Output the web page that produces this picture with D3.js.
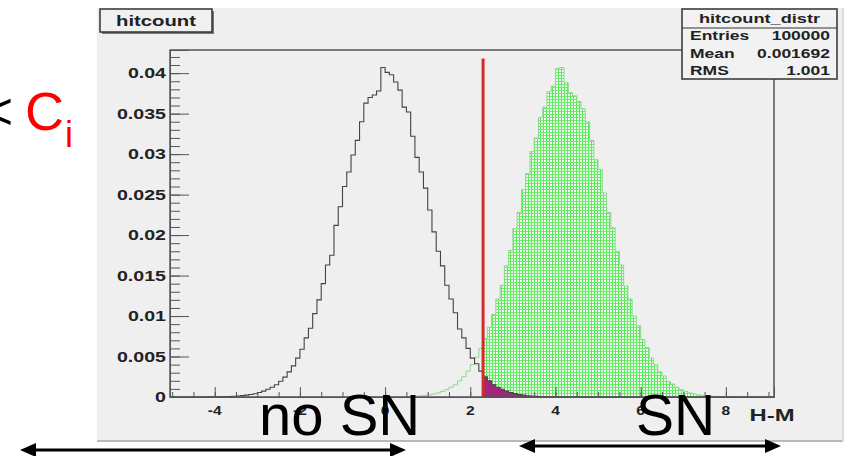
<!DOCTYPE html>
<meta charset="utf-8" />
<html>
<head>
<script src="https://d3js.org/d3.v7.min.js"></script>
<style>
  body { margin: 0; background: #fff; }
  svg { display: block; }
  .root-txt { font-family: "Liberation Sans", Arial, sans-serif; font-weight: bold; fill: #222; }
  .big-txt { font-family: "Liberation Sans", Arial, sans-serif; }
</style>
</head>
<body>
<svg id="chart" width="848" height="456"></svg>
<script>
// ---- data ----
var binWidth = 0.1;
// no-SN distribution, bins starting at -4.5
var noSnStart = -4.5;
var noSnValues = [
  0, 0, 0, 0.00001, 0.00001,
  0.00002, 0.00003, 0.00005, 0.00006, 0.00009,
  0.00012, 0.00017, 0.00023, 0.00031, 0.00041,
  0.00055, 0.00072, 0.00095, 0.0012, 0.00152,
  0.00195, 0.00245, 0.0031, 0.00385, 0.0048,
  0.0059, 0.0073, 0.0085, 0.0103, 0.012,
  0.014, 0.0163, 0.0175, 0.0212, 0.0235,
  0.0260, 0.0278, 0.0299, 0.0317, 0.0340,
  0.0363, 0.0370, 0.0373, 0.0378, 0.0407,
  0.0401, 0.0398, 0.0389, 0.0379, 0.0358,
  0.0352, 0.0322, 0.0296, 0.0278, 0.0258,
  0.0231, 0.0204, 0.018, 0.0162, 0.0138,
  0.0121, 0.0104, 0.0084, 0.0073, 0.006,
  0.0048, 0.0041, 0.0032, 0.0025, 0.002,
  0.0015, 0.0012, 0.00095, 0.00072, 0.00055,
  0.00042, 0.0003, 0.00023, 0.00016, 0.00012,
  0.00009, 0.00006, 0.00004, 0.00003, 0.00002,
  0.00001, 0.00001, 0, 0, 0
];
// SN distribution, bins starting at 0.5
var snStart = 0.5;
var snValues = [
  0.00005, 0.00007, 0.0001, 0.00015, 0.0002,
  0.00028, 0.00038, 0.00051, 0.00069, 0.00091,
  0.0012, 0.0015, 0.002, 0.0025, 0.0032,
  0.004, 0.0049, 0.006, 0.0072, 0.0086,
  0.0102, 0.0121, 0.0138, 0.0162, 0.0181,
  0.0208, 0.0228, 0.0256, 0.0276, 0.0303,
  0.032, 0.0345, 0.0358, 0.0377, 0.0384,
  0.0406, 0.0407, 0.0388, 0.0376, 0.0372,
  0.0365, 0.0356, 0.0340, 0.0317, 0.0293,
  0.0281, 0.0252, 0.0228, 0.0209, 0.018,
  0.0163, 0.0137, 0.0121, 0.01, 0.0088,
  0.0071, 0.0061, 0.0048, 0.004, 0.0031,
  0.0026, 0.0019, 0.0016, 0.0012, 0.0009,
  0.0007, 0.0005, 0.00038, 0.00028, 0.0002,
  0.00015, 0.0001, 0.00007, 0.00005, 0.00004,
  0.00002, 0.00002, 0.00001, 0.00001, 0
];
var cutValue = 2.3;
var cutTop = 0.0418;
var xDomain = [-5.05, 9.13];
var yDomain = [0, 0.04286];
var xMajorTicks = [-4, -2, 0, 2, 4, 6, 8];
var yMajorTicks = [0, 0.005, 0.01, 0.015, 0.02, 0.025, 0.03, 0.035, 0.04];
var histTitle = "hitcount";
var xTitle = "H-M";
var statsTitle = "hitcount_distr";
var statsLabels = ["Entries", "Mean", "RMS"];
var statsValues = ["100000", "0.001692", "1.001"];

// ---- layout ----
var frame = {left: 170, right: 774, top: 50, bottom: 397};
var svg = d3.select("#chart");

var x = d3.scaleLinear().domain(xDomain).range([frame.left, frame.right]);
var y = d3.scaleLinear().domain(yDomain).range([frame.bottom, frame.top]);

// stretched ROOT-looking text (picture is widened horizontally)
function rootText(sel, px, py, str, size, anchor, sx) {
  return sel.append("text").attr("class", "root-txt")
    .attr("transform", "translate(" + px + "," + py + ") scale(" + (sx || 1.4) + ",1)")
    .attr("font-size", size).attr("text-anchor", anchor || "start").text(str);
}

// pad background
svg.append("rect").attr("x", 97).attr("y", 8).attr("width", 746).attr("height", 433).attr("fill", "#efefef");
svg.append("line").attr("x1", 97).attr("x2", 843).attr("y1", 441).attr("y2", 441).attr("stroke", "#b9b9b9").attr("stroke-width", 2);
svg.append("line").attr("x1", 843).attr("x2", 843).attr("y1", 8).attr("y2", 441).attr("stroke", "#dcdcdc").attr("stroke-width", 2);

// hatch pattern for SN fill
var defs = svg.append("defs");
var pat = defs.append("pattern").attr("id", "hatch").attr("patternUnits", "userSpaceOnUse")
  .attr("width", 3).attr("height", 3);
pat.append("rect").attr("width", 3).attr("height", 3).attr("fill", "#eefbee");
pat.append("rect").attr("width", 1).attr("height", 3).attr("fill", "#55e855");
pat.append("rect").attr("width", 3).attr("height", 1).attr("fill", "#6bec6b");

defs.append("clipPath").attr("id", "aboveCut").append("rect")
  .attr("x", x(cutValue)).attr("y", frame.top)
  .attr("width", frame.right - x(cutValue)).attr("height", frame.bottom - frame.top);

function binPoints(start, values) {
  var pts = values.map(function(v, i) { return [start + i * binWidth, v]; });
  pts.push([start + values.length * binWidth, 0]);
  return pts;
}
var noSnPts = binPoints(noSnStart, noSnValues);
var snPts = binPoints(snStart, snValues);

var stepLine = d3.line().curve(d3.curveStepAfter)
  .x(function(d) { return x(d[0]); }).y(function(d) { return y(d[1]); });
var stepArea = d3.area().curve(d3.curveStepAfter)
  .x(function(d) { return x(d[0]); }).y0(y(0)).y1(function(d) { return y(d[1]); });

var plot = svg.append("g");

// SN hatch fill beyond the cut
plot.append("path").datum(snPts).attr("d", stepArea)
  .attr("fill", "url(#hatch)").attr("clip-path", "url(#aboveCut)");
// SN outline
plot.append("path").datum([[xDomain[0], 0]].concat(snPts, [[xDomain[1], 0]])).attr("d", stepLine)
  .attr("fill", "none").attr("stroke", "#8fd68f").attr("stroke-width", 1);

// no-SN tail beyond the cut
plot.append("path").datum(noSnPts).attr("d", stepArea)
  .attr("fill", "#a3237f").attr("clip-path", "url(#aboveCut)");
// no-SN outline
plot.append("path").datum([[xDomain[0], 0]].concat(noSnPts, [[xDomain[1], 0]])).attr("d", stepLine)
  .attr("fill", "none").attr("stroke", "#444").attr("stroke-width", 1.1);

// cut line
plot.append("line").attr("x1", x(cutValue)).attr("x2", x(cutValue))
  .attr("y1", y(cutTop)).attr("y2", y(0))
  .attr("stroke", "#d42a2a").attr("stroke-width", 3);

// frame
svg.append("rect").attr("x", frame.left).attr("y", frame.top)
  .attr("width", frame.right - frame.left).attr("height", frame.bottom - frame.top)
  .attr("fill", "none").attr("stroke", "#555").attr("stroke-width", 1.5);

// y axis
var yMinor = d3.range(0, 43).map(function(i) { return i * 0.001; });
svg.append("g").attr("transform", "translate(" + frame.left + ",0)")
  .call(d3.axisLeft(y).tickValues(yMinor).tickSize(-10).tickFormat(""))
  .call(function(g) { g.select(".domain").remove(); g.selectAll("line").attr("stroke", "#555"); });
var yAx = svg.append("g").attr("transform", "translate(" + frame.left + ",0)")
  .call(d3.axisLeft(y).tickValues(yMajorTicks).tickSize(-19).tickFormat(""));
yAx.select(".domain").attr("stroke", "#555");
yAx.selectAll("line").attr("stroke", "#555");
yMajorTicks.forEach(function(v) {
  rootText(svg, frame.left - 4, y(v) + 5, String(+v.toFixed(3)), 14, "end", 1.4);
});

// x axis
var xMinor = d3.range(-10, 19).map(function(i) { return i * 0.5; });
svg.append("g").attr("transform", "translate(0," + frame.bottom + ")")
  .call(d3.axisBottom(x).tickValues(xMinor).tickSize(-5).tickFormat(""))
  .call(function(g) { g.select(".domain").remove(); g.selectAll("line").attr("stroke", "#555"); });
var xAx = svg.append("g").attr("transform", "translate(0," + frame.bottom + ")")
  .call(d3.axisBottom(x).tickValues(xMajorTicks).tickSize(-10).tickFormat(""));
xAx.select(".domain").attr("stroke", "#555");
xAx.selectAll("line").attr("stroke", "#555");
xMajorTicks.forEach(function(v) {
  rootText(svg, x(v), 415, String(v), 12, "middle", 1.3);
});
rootText(svg, 772, 421, xTitle, 17, "middle", 1.4);

// title box
svg.append("rect").attr("x", 102).attr("y", 11).attr("width", 112).attr("height", 23).attr("fill", "#777");
svg.append("rect").attr("x", 100).attr("y", 9).attr("width", 112).attr("height", 23)
  .attr("fill", "#f0f0f0").attr("stroke", "#333").attr("stroke-width", 1.5);
rootText(svg, 156, 26, histTitle, 14.5, "middle", 1.4);

// stats box
var sb = {x: 682, y: 9, w: 155, h: 70};
svg.append("rect").attr("x", sb.x).attr("y", sb.y).attr("width", sb.w).attr("height", sb.h)
  .attr("fill", "#f2f2f2").attr("stroke", "#333").attr("stroke-width", 1.5);
svg.append("line").attr("x1", sb.x).attr("x2", sb.x + sb.w).attr("y1", 28).attr("y2", 28)
  .attr("stroke", "#333").attr("stroke-width", 1.2);
rootText(svg, sb.x + sb.w / 2, 23, statsTitle, 13, "middle", 1.4);
statsLabels.forEach(function(lab, i) {
  var by = 40 + i * 17.5;
  rootText(svg, sb.x + 8, by, lab, 12.5, "start", 1.4);
  rootText(svg, sb.x + sb.w - 7, by, statsValues[i], 12.5, "end", 1.4);
});

// annotations
svg.append("text").attr("class", "big-txt").attr("x", 13).attr("y", 129)
  .attr("font-size", 52).attr("text-anchor", "end").attr("fill", "#000").text("<");
svg.append("text").attr("class", "big-txt").attr("x", 25).attr("y", 130)
  .attr("font-size", 54).attr("fill", "#ff0000").text("C");
svg.append("text").attr("class", "big-txt").attr("x", 65).attr("y", 147)
  .attr("font-size", 36).attr("fill", "#ff0000").text("i");

svg.append("text").attr("class", "big-txt").attr("x", 259).attr("y", 435)
  .attr("font-size", 58).attr("fill", "#000").text("no SN");
svg.append("text").attr("class", "big-txt").attr("x", 636).attr("y", 435)
  .attr("font-size", 57).attr("fill", "#000").text("SN");

function arrow(x1, x2, yy) {
  svg.append("line").attr("x1", x1 + 10).attr("x2", x2 - 10).attr("y1", yy).attr("y2", yy)
    .attr("stroke", "#000").attr("stroke-width", 3);
  svg.append("path").attr("d", "M" + x1 + "," + yy + "L" + (x1 + 16) + "," + (yy - 7) + "L" + (x1 + 16) + "," + (yy + 7) + "Z").attr("fill", "#000");
  svg.append("path").attr("d", "M" + x2 + "," + yy + "L" + (x2 - 16) + "," + (yy - 7) + "L" + (x2 - 16) + "," + (yy + 7) + "Z").attr("fill", "#000");
}
arrow(20, 406, 450);
arrow(519, 781, 446);
</script>
</body>
</html>
